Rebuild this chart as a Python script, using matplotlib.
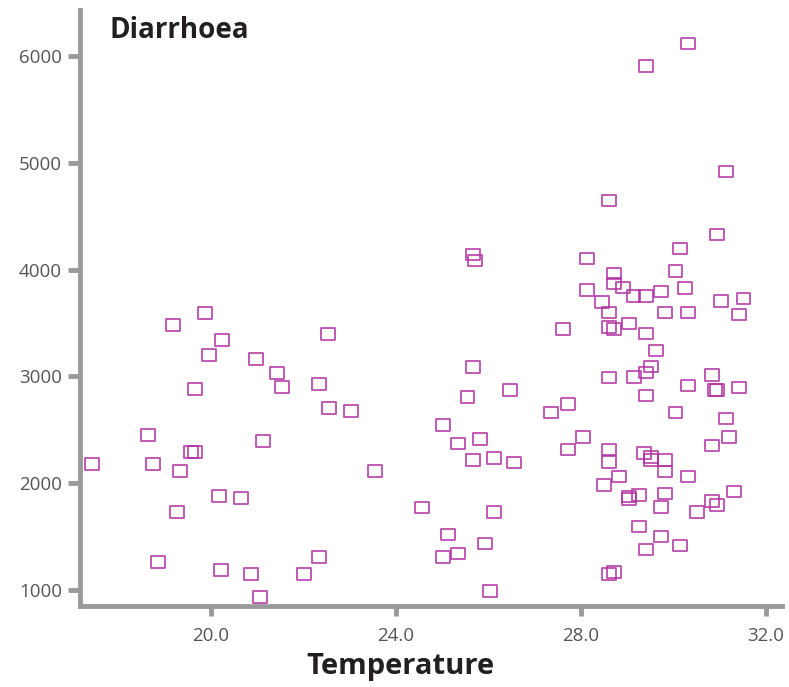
import matplotlib
matplotlib.use("Agg")
import matplotlib.pyplot as plt
from matplotlib.path import Path
import numpy as np

temperature = [
    17.43, 18.64, 18.75, 18.85, 19.18, 19.33, 19.26, 19.57, 19.65, 19.65,
    19.87, 19.96, 20.17, 20.24, 20.22, 20.65, 20.86, 20.97, 21.12, 21.06,
    21.43, 21.54, 22.01, 22.34, 22.34, 22.53, 22.55, 23.03, 23.55,
    24.56, 25.02, 25.13, 25.02, 25.35, 25.35, 25.55, 25.66, 25.66, 25.82,
    25.92, 25.66, 25.72, 26.03, 26.13, 26.13, 26.46, 26.56, 27.35, 27.72,
    30.31, 29.41, 31.15, 28.62, 30.94, 30.15, 28.14, 30.05, 28.72, 28.72,
    28.14, 28.92, 30.26, 29.73, 29.14, 29.41, 31.04, 31.52, 28.46, 28.62,
    29.83, 30.31, 31.42, 27.61, 28.62, 28.72, 29.05, 29.41,
    29.62, 29.51, 29.41, 28.62, 29.15, 30.84, 30.31, 30.90, 30.94, 31.42,
    29.41, 30.05, 31.15, 28.04, 31.21, 30.84, 27.72, 28.62, 29.36, 29.51,
    29.51, 29.83, 28.62, 29.83, 30.31, 28.83, 28.51, 29.83, 29.04, 29.04,
    29.25, 29.73, 30.52, 30.84, 30.94, 31.31, 29.25, 29.73, 29.41, 30.15,
    28.62, 28.72,
]
diarrhoea = [
    2180, 2451, 2180, 1262, 3481, 2114, 1730, 2292, 2292, 2882,
    3594, 3200, 1880, 3341, 1187, 1861, 1150, 3163, 2395, 934,
    3032, 2901, 1150, 1309, 2929, 3397, 2704, 2676, 2114,
    1771, 2546, 1518, 1309, 2371, 1340, 2805, 3090, 2217, 2411,
    1437, 4140, 4084, 993, 2236, 1730, 2875, 2195, 2661, 2742,
    6115, 5906, 4919, 4645, 4330, 4196, 4102, 3984, 3965, 3868,
    3809, 3834, 3830, 3793, 3755, 3755, 3708, 3730, 3697, 3597,
    3597, 3597, 3578, 3441, 3460, 3441, 3497, 3403,
    3241, 3091, 3035, 2988, 2992, 3013, 2913, 2875, 2875, 2897,
    2819, 2661, 2605, 2430, 2430, 2352, 2317, 2317, 2280, 2245,
    2217, 2217, 2196, 2108, 2061, 2061, 1983, 1905, 1874, 1850,
    1887, 1775, 1730, 1831, 1794, 1924, 1593, 1499, 1381, 1418,
    1150, 1169,
]
x_ticks = [20.0, 24.0, 28.0, 32.0]
x_ticklabels = ["20.0", "24.0", "28.0", "32.0"]
y_ticks = [1000, 2000, 3000, 4000, 5000, 6000]
y_ticklabels = ["1000", "2000", "3000", "4000", "5000", "6000"]

plt.rcParams['font.family'] = ['Open Sans', 'DejaVu Sans']

fig = plt.figure(figsize=(7.89, 6.87), dpi=100)
ax = fig.add_axes([0.1014, 0.1179, 0.8896, 0.8675])

rect = Path([(-0.6, -0.5), (0.6, -0.5), (0.6, 0.5), (-0.6, 0.5), (-0.6, -0.5)],
            [Path.MOVETO, Path.LINETO, Path.LINETO, Path.LINETO, Path.CLOSEPOLY])
ax.scatter(temperature, diarrhoea, marker=rect, s=100, facecolors='none',
           edgecolors='#B22FA2', linewidths=1.3, alpha=0.85, zorder=3)

ax.set_xlim(17.17, 32.35)
ax.set_ylim(850, 6430)
ax.set_xticks(x_ticks)
ax.set_xticklabels(x_ticklabels)
ax.set_yticks(y_ticks)
ax.set_yticklabels(y_ticklabels)

for s in ['top', 'right']:
    ax.spines[s].set_visible(False)
for s in ['left', 'bottom']:
    ax.spines[s].set_color('#9a9a9c')
    ax.spines[s].set_linewidth(3.5)

ax.tick_params(axis='y', direction='out', length=9, width=3.5, color='#9a9a9c',
               labelsize=13.5, labelcolor='#555555', pad=4)
ax.tick_params(axis='x', direction='out', length=7, width=3.5, color='#9a9a9c',
               labelsize=13.5, labelcolor='#555555', pad=8)

ax.set_xlabel('Temperature', fontsize=21, fontweight='bold', color='#231f20')
ax.xaxis.set_label_coords(0.456, -0.077)
ax.xaxis.label.set_va('top')
ax.text(0.042, 0.99, 'Diarrhoea', transform=ax.transAxes, fontsize=20,
        fontweight='bold', color='#231f20', va='top', ha='left')

fig.savefig('out.png', dpi=100)
